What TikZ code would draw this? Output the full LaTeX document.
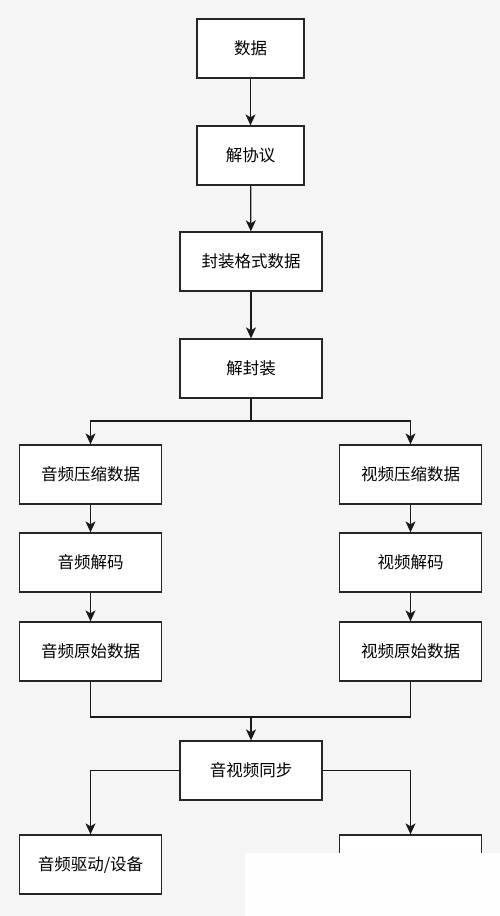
\documentclass[tikz,border=0pt]{standalone}
\usepackage{fontspec}
\newfontfamily\cjk{Noto Sans CJK SC}
\usetikzlibrary{arrows.meta}
\begin{document}
\begin{tikzpicture}[x=1pt,y=-1pt,
  box/.style={draw=black!85,line width=1.3pt,fill=white,minimum height=59pt,inner sep=0pt,font=\cjk\fontsize{16.5}{19}\selectfont},
  wbox/.style={box,minimum width=107pt},
  lbox/.style={box,minimum width=142pt},
  conn/.style={line width=1.2pt,draw=black!90},
  arr/.style={conn,-{Stealth[length=11pt,width=10pt,inset=3pt]}}]
\fill[black!4] (0,0) rectangle (500,916);
\useasboundingbox (0,0) rectangle (500,916);
\node[wbox] (data) at (250.5,48.5) {数据};
\node[wbox] (proto) at (250.5,155.5) {解协议};
\node[lbox] (fmt) at (251,261.5) {封装格式数据};
\node[lbox] (demux) at (251,368.5) {解封装};
\node[lbox] (ac) at (90.5,474.5) {音频压缩数据};
\node[lbox] (vc) at (410.5,474.5) {视频压缩数据};
\node[lbox] (ad) at (90.5,562.5) {音频解码};
\node[lbox] (vd) at (410.5,562.5) {视频解码};
\node[lbox] (ar) at (90.5,651.5) {音频原始数据};
\node[lbox] (vr) at (410.5,651.5) {视频原始数据};
\node[lbox] (sync) at (251,770.5) {音视频同步};
\node[lbox] (aout) at (90.5,864.5) {音频驱动/设备};
\node[lbox] (vout) at (410.5,864.5) {};
\coordinate (split) at (251,421);
\coordinate (merge) at (251,717);
\draw[arr] (data) -- (proto);
\draw[arr] (proto) -- (fmt);
\draw[arr] (fmt) -- (demux);
\draw[conn] (demux) -- (split);
\draw[arr] (split) -| (ac);
\draw[arr] (split) -| (vc);
\draw[arr] (ac) -- (ad);
\draw[arr] (ad) -- (ar);
\draw[arr] (vc) -- (vd);
\draw[arr] (vd) -- (vr);
\draw[conn] (ar) |- (merge);
\draw[conn] (vr) |- (merge);
\draw[arr] (merge) -- (sync);
\draw[arr] (sync) -| (aout);
\draw[arr] (sync) -| (vout);
\fill[white!92!red!6] (245,853) rectangle (500,916);
\end{tikzpicture}
\end{document}
